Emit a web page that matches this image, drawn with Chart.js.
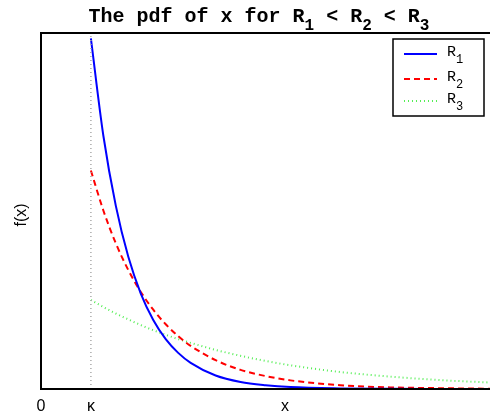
<!DOCTYPE html>
<html>
<head>
<meta charset="utf-8">
<script src="https://cdn.jsdelivr.net/npm/chart.js@4/dist/chart.umd.min.js"></script>
<style>html,body{margin:0;padding:0;background:#fff}</style>
</head>
<body>
<canvas id="chart1" width="490" height="413"></canvas>
<script>
// x positions (kappa = 1) and pdf values
const xValues = [1, 1.25, 1.5, 1.75, 2, 2.25, 2.5, 2.75, 3, 3.5, 4, 4.5, 5, 6, 7, 8, 9];
const yR1 = [1.30, 0.939, 0.679, 0.490, 0.354, 0.256, 0.185, 0.134, 0.097, 0.050, 0.026, 0.014, 0.007, 0.002, 0.0005, 0.0001, 0.00003];
const yR2 = [0.810, 0.662, 0.540, 0.441, 0.360, 0.294, 0.240, 0.196, 0.160, 0.107, 0.071, 0.048, 0.032, 0.014, 0.006, 0.003, 0.001];
const yR3 = [0.330, 0.304, 0.280, 0.258, 0.237, 0.218, 0.201, 0.185, 0.171, 0.145, 0.123, 0.104, 0.088, 0.063, 0.046, 0.033, 0.024];
const seriesNames = ['1', '2', '3'];
const kappa = 1;
const xTickValues = [0, 1];
const xTickLabels = ['0', 'κ'];
const xMin = 0, xMax = 9;
const yMin = 0, yMax = 1.32;

function pts(ys) {
    return xValues.map((x, i) => ({x: x, y: ys[i]}));
}

const lineColors = ['#0000ff', '#ff0000', '#55ee55'];
const lineDashes = [[], [6, 4], [1, 3]];

// draws a run of [text, isSub] pieces starting at x
function drawSubText(ctx, parts, x, y, font, subFont, subDy) {
    parts.forEach(p => {
        ctx.font = p[1] ? subFont : font;
        ctx.fillText(p[0], x, y + (p[1] ? subDy : 0));
        x += ctx.measureText(p[0]).width;
    });
    return x;
}
function subTextWidth(ctx, parts, font, subFont) {
    let w = 0;
    parts.forEach(p => {
        ctx.font = p[1] ? subFont : font;
        w += ctx.measureText(p[0]).width;
    });
    return w;
}

const decorations = {
    id: 'decorations',
    afterDraw(chart) {
        const ctx = chart.ctx;
        const a = chart.chartArea;
        const xs = chart.scales.x;
        ctx.save();
        // axes box (right side falls off the picture)
        ctx.strokeStyle = '#000';
        ctx.lineWidth = 2;
        ctx.beginPath();
        ctx.moveTo(490, a.top);
        ctx.lineTo(a.left, a.top);
        ctx.lineTo(a.left, a.bottom);
        ctx.lineTo(490, a.bottom);
        ctx.stroke();

        ctx.fillStyle = '#000';
        ctx.textBaseline = 'alphabetic';
        ctx.textAlign = 'left';

        // title
        const tFont = 'bold 20px "Liberation Mono", "DejaVu Sans Mono", monospace';
        const tSub = 'bold 16px "Liberation Mono", "DejaVu Sans Mono", monospace';
        const tParts = [['The pdf of x for R', 0], [seriesNames[0], 1], [' < R', 0], [seriesNames[1], 1], [' < R', 0], [seriesNames[2], 1]];
        const tw = subTextWidth(ctx, tParts, tFont, tSub);
        drawSubText(ctx, tParts, 259 - tw / 2, 22, tFont, tSub, 8);

        // x tick labels and axis labels
        ctx.font = '16px "Liberation Sans", Arial, sans-serif';
        ctx.textAlign = 'center';
        xTickValues.forEach((v, i) => {
            ctx.fillText(xTickLabels[i], xs.getPixelForValue(v), 411);
        });
        ctx.fillText('x', 285, 411);
        ctx.save();
        ctx.translate(26, 215);
        ctx.rotate(-Math.PI / 2);
        ctx.font = '16px "Liberation Sans", Arial, sans-serif';
        ctx.fillText('f(x)', 0, 0);
        ctx.restore();

        // legend
        const lx = 393, ly = 39, lw = 91, lh = 77;
        ctx.fillStyle = '#fff';
        ctx.fillRect(lx, ly, lw, lh);
        ctx.strokeStyle = '#000';
        ctx.lineWidth = 1.5;
        ctx.strokeRect(lx, ly, lw, lh);
        const rows = [54, 79, 101];
        const lFont = '15px "Liberation Mono", "DejaVu Sans Mono", monospace';
        const lSub = '12px "Liberation Mono", "DejaVu Sans Mono", monospace';
        ctx.textAlign = 'left';
        rows.forEach((yy, i) => {
            ctx.strokeStyle = lineColors[i];
            ctx.lineWidth = 2;
            ctx.setLineDash(lineDashes[i]);
            ctx.beginPath();
            ctx.moveTo(404, yy);
            ctx.lineTo(437, yy);
            ctx.stroke();
            ctx.setLineDash([]);
            ctx.fillStyle = '#000';
            drawSubText(ctx, [['R', 0], [seriesNames[i], 1]], 447, yy + 2, lFont, lSub, 7);
        });
        ctx.restore();
    }
};

new Chart('chart1', {
    type: 'line',
    data: {
        datasets: [
            {
                data: [{x: kappa, y: yMin}, {x: kappa, y: yMax}],
                borderColor: '#aaaaaa',
                borderWidth: 1.5,
                borderDash: [1, 3],
                pointRadius: 0
            },
            {
                data: pts(yR1),
                borderColor: lineColors[0],
                borderWidth: 2,
                pointRadius: 0,
                cubicInterpolationMode: 'monotone'
            },
            {
                data: pts(yR2),
                borderColor: lineColors[1],
                borderWidth: 2,
                borderDash: lineDashes[1],
                pointRadius: 0,
                cubicInterpolationMode: 'monotone'
            },
            {
                data: pts(yR3),
                borderColor: lineColors[2],
                borderWidth: 2,
                borderDash: lineDashes[2],
                pointRadius: 0,
                cubicInterpolationMode: 'monotone'
            }
        ]
    },
    options: {
        responsive: false,
        animation: false,
        layout: {padding: {left: 41, top: 33, right: 0, bottom: 24}},
        plugins: {
            legend: {display: false},
            title: {display: false},
            tooltip: {enabled: false}
        },
        scales: {
            x: {type: 'linear', min: xMin, max: xMax, display: false},
            y: {type: 'linear', min: yMin, max: yMax, display: false}
        }
    },
    plugins: [decorations]
});
</script>
</body>
</html>
